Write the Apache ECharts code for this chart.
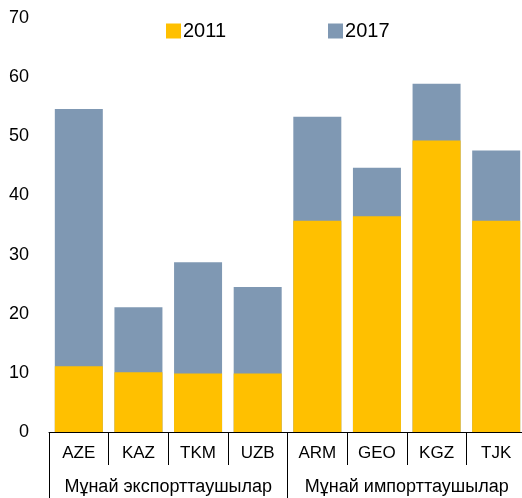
<!DOCTYPE html>
<html lang="kk">
<head>
    <meta charset="utf-8"/>
    <title>Chart</title>
    <script src="https://cdn.jsdelivr.net/npm/echarts@6/dist/echarts.min.js"></script>
    <style>
        html, body { margin: 0; padding: 0; background: #fff; }
        #main { width: 522px; height: 498px; }
    </style>
</head>
<body>
<div id="main"></div>
<script>
    // categories and groups
    var countries = ['AZE', 'KAZ', 'TKM', 'UZB', 'ARM', 'GEO', 'KGZ', 'TJK'];
    var groups = ['Мұнай экспорттаушылар', 'Мұнай импорттаушылар'];
    // values (2017 = bar top, 2011 = lower part)
    var val2011 = [11.1, 10.1, 9.9, 9.9, 35.7, 36.5, 49.3, 35.7];
    var val2017 = [54.6, 21.1, 28.7, 24.5, 53.3, 44.7, 58.9, 47.6];
    var yTicks = [0, 10, 20, 30, 40, 50, 60, 70];

    var font = 'Liberation Sans, Arial, sans-serif';
    var myChart = echarts.init(document.getElementById('main'));
    var option = {
        animation: false,
        color: ['#7F98B3', '#FFC000'],
        legend: {
            data: ['2011', '2017'],
            left: 161,
            top: 16,
            itemWidth: 15,
            itemHeight: 15,
            itemGap: 102,
            icon: 'rect',
            textStyle: { fontFamily: font, fontSize: 20, color: '#000', padding: [0, 0, 0, -3] }
        },
        grid: {
            left: 49,
            top: 18,
            width: 477,
            bottom: 66,
            containLabel: false,
            outerBoundsMode: 'none'
        },
        xAxis: [{
            type: 'category',
            data: countries,
            axisLine: { lineStyle: { color: '#000', width: 1 } },
            axisTick: { show: true, interval: 0, length: 33, lineStyle: { color: '#000' } },
            axisLabel: { interval: 0, margin: 13, fontFamily: font, fontSize: 17, color: '#000' }
        }, {
            type: 'category',
            data: groups,
            position: 'bottom',
            axisLine: { show: false },
            axisTick: { show: true, interval: 0, length: 66, lineStyle: { color: '#000' } },
            axisLabel: { interval: 0, hideOverlap: false, margin: 46, fontFamily: font, fontSize: 18, color: '#000' }
        }],
        yAxis: {
            type: 'value',
            min: yTicks[0],
            max: yTicks[yTicks.length - 1],
            interval: 10,
            axisLine: { show: false },
            axisTick: { show: false },
            splitLine: { show: false },
            axisLabel: { margin: 20, fontFamily: font, fontSize: 18, color: '#000' }
        },
        series: [{
            name: '2017',
            type: 'bar',
            xAxisIndex: 0,
            data: val2017,
            barWidth: 48,
            itemStyle: { color: '#7F98B3' }
        }, {
            name: '2011',
            type: 'bar',
            xAxisIndex: 0,
            data: val2011,
            barWidth: 48,
            barGap: '-100%',
            itemStyle: { color: '#FFC000' }
        }]
    };
    myChart.setOption(option);
</script>
</body>
</html>
